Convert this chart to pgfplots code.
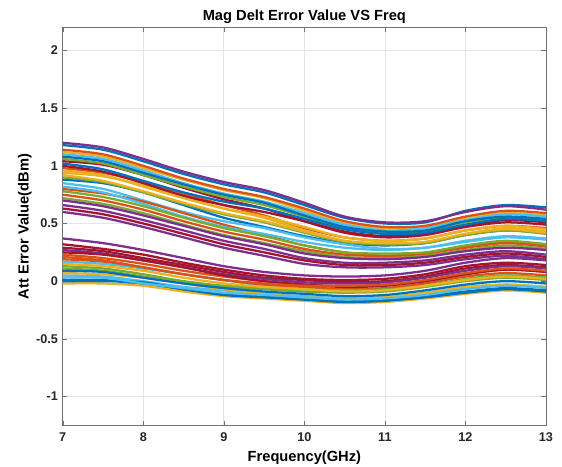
\documentclass[border=0pt]{standalone}
\usepackage{fontspec}
\setmainfont{Liberation Sans}
\usepackage{pgfplots}
\usepackage{pgfplotstable}
\pgfplotsset{compat=1.18}
\definecolor{m1}{HTML}{0072BD}
\definecolor{m2}{HTML}{D95319}
\definecolor{m3}{HTML}{EDB120}
\definecolor{m4}{HTML}{7E2F8E}
\definecolor{m5}{HTML}{77AC30}
\definecolor{m6}{HTML}{4DBEEE}
\definecolor{m7}{HTML}{A2142F}

\pgfplotstableread{
id 7 7.5 8 8.5 9 9.5 10 10.5 11 11.5 12 12.5 13
u1 1.18 1.14 1.04 0.93 0.84 0.77 0.66 0.55 0.50 0.51 0.61 0.66 0.64
u2 0.98 0.94 0.86 0.76 0.66 0.57 0.46 0.38 0.35 0.37 0.44 0.48 0.46
u3 1.12 1.08 0.98 0.88 0.79 0.72 0.61 0.50 0.46 0.47 0.55 0.59 0.57
u4 1.20 1.16 1.06 0.95 0.86 0.79 0.68 0.56 0.51 0.52 0.60 0.65 0.62
u5 0.72 0.67 0.59 0.49 0.40 0.33 0.26 0.21 0.20 0.22 0.27 0.31 0.28
u6 1.10 1.06 0.96 0.85 0.76 0.69 0.59 0.49 0.44 0.46 0.53 0.58 0.56
u7 1.04 1.01 0.92 0.81 0.71 0.63 0.52 0.42 0.38 0.40 0.47 0.51 0.49
u8 0.88 0.85 0.77 0.66 0.55 0.47 0.39 0.33 0.31 0.33 0.40 0.44 0.42
u9 1.14 1.10 1.00 0.89 0.80 0.73 0.63 0.52 0.47 0.48 0.56 0.61 0.59
u10 0.94 0.91 0.83 0.73 0.63 0.55 0.44 0.35 0.32 0.34 0.41 0.46 0.43
u11 0.60 0.55 0.47 0.38 0.29 0.22 0.15 0.12 0.12 0.14 0.19 0.22 0.19
u12 1.06 1.02 0.92 0.82 0.73 0.66 0.56 0.46 0.42 0.43 0.51 0.55 0.53
u13 0.85 0.80 0.70 0.60 0.52 0.46 0.38 0.32 0.28 0.29 0.34 0.38 0.36
u14 1.00 0.95 0.85 0.74 0.66 0.60 0.52 0.43 0.39 0.41 0.48 0.53 0.51
u15 1.08 1.04 0.94 0.84 0.75 0.68 0.57 0.47 0.43 0.44 0.52 0.56 0.54
u16 0.80 0.76 0.69 0.59 0.49 0.40 0.31 0.25 0.22 0.24 0.30 0.34 0.32
u17 0.96 0.92 0.82 0.72 0.63 0.56 0.47 0.38 0.35 0.37 0.44 0.48 0.45
u18 0.66 0.61 0.53 0.44 0.35 0.28 0.20 0.16 0.16 0.18 0.23 0.26 0.23
u19 0.90 0.86 0.77 0.67 0.58 0.51 0.42 0.34 0.32 0.33 0.40 0.44 0.41
u20 0.82 0.77 0.67 0.56 0.47 0.41 0.34 0.29 0.27 0.29 0.35 0.39 0.37
u21 0.63 0.58 0.50 0.41 0.32 0.25 0.18 0.14 0.14 0.16 0.21 0.24 0.21
u22 1.02 0.97 0.87 0.77 0.69 0.63 0.54 0.45 0.41 0.42 0.49 0.54 0.52
u23 0.75 0.70 0.62 0.52 0.43 0.36 0.28 0.23 0.22 0.24 0.29 0.33 0.30
u24 0.92 0.87 0.78 0.68 0.59 0.52 0.43 0.35 0.33 0.34 0.41 0.45 0.42
u25 0.70 0.65 0.57 0.48 0.39 0.32 0.24 0.20 0.19 0.21 0.26 0.29 0.27
u26 0.78 0.73 0.65 0.55 0.46 0.39 0.31 0.25 0.24 0.25 0.31 0.35 0.32
}\upraw
\pgfplotstabletranspose[colnames from=id,input colnames to=x]\upt\upraw

\pgfplotstableread{
id 7 7.5 8 8.5 9 9.5 10 10.5 11 11.5 12 12.5 13
l1 0.17 0.15 0.11 0.06 0.01 -0.04 -0.07 -0.09 -0.08 -0.04 0.01 0.05 0.03
l2 0.29 0.26 0.20 0.14 0.08 0.03 0.01 -0.01 0.00 0.04 0.11 0.14 0.12
l3 0.01 0.01 -0.03 -0.08 -0.11 -0.13 -0.15 -0.17 -0.16 -0.13 -0.09 -0.06 -0.08
l4 0.23 0.20 0.15 0.09 0.04 0.00 -0.03 -0.04 -0.03 0.00 0.06 0.10 0.08
l5 -0.02 -0.02 -0.04 -0.09 -0.13 -0.15 -0.17 -0.19 -0.18 -0.15 -0.11 -0.08 -0.10
l6 0.37 0.33 0.27 0.20 0.13 0.08 0.05 0.04 0.05 0.09 0.16 0.20 0.18
l7 0.11 0.09 0.04 -0.01 -0.05 -0.07 -0.09 -0.10 -0.09 -0.05 0.00 0.03 0.01
l8 0.05 0.04 0.00 -0.05 -0.08 -0.11 -0.13 -0.15 -0.14 -0.11 -0.06 -0.03 -0.05
l9 0.32 0.28 0.23 0.16 0.10 0.05 0.02 0.01 0.02 0.06 0.13 0.16 0.14
l10 0.00 0.00 -0.01 -0.07 -0.12 -0.14 -0.16 -0.18 -0.17 -0.14 -0.10 -0.07 -0.09
l11 0.19 0.17 0.12 0.06 0.01 -0.03 -0.05 -0.07 -0.06 -0.02 0.04 0.07 0.05
l12 0.07 0.06 0.03 -0.02 -0.07 -0.11 -0.14 -0.15 -0.14 -0.10 -0.05 -0.03 -0.05
l13 0.27 0.24 0.18 0.12 0.06 0.02 -0.01 -0.02 -0.01 0.03 0.09 0.13 0.11
l14 0.13 0.11 0.06 0.00 -0.04 -0.06 -0.07 -0.08 -0.07 -0.04 0.02 0.05 0.03
l15 0.03 0.03 -0.02 -0.06 -0.10 -0.12 -0.14 -0.16 -0.15 -0.12 -0.07 -0.04 -0.06
l16 0.25 0.23 0.18 0.12 0.05 0.00 -0.03 -0.05 -0.04 0.00 0.06 0.10 0.08
l17 0.09 0.08 0.03 -0.02 -0.06 -0.09 -0.11 -0.13 -0.12 -0.08 -0.03 0.00 -0.02
l18 0.21 0.18 0.12 0.06 0.01 -0.02 -0.04 -0.04 -0.03 0.01 0.07 0.11 0.09
l19 0.15 0.13 0.09 0.03 -0.02 -0.05 -0.07 -0.09 -0.08 -0.04 0.01 0.04 0.02
}\loraw
\pgfplotstabletranspose[colnames from=id,input colnames to=x]\lot\loraw

\begin{document}
\begin{tikzpicture}
\begin{axis}[
  name=ax,
  scale only axis,
  width=362pt, height=298pt,
  xmin=7, xmax=13, ymin=-1.25, ymax=2.2,
  xtick={7,8,9,10,11,12,13},
  ytick={-1,-0.5,0,0.5,1,1.5,2},
  /pgf/number format/assume math mode=true,
  tick label style={font=\bfseries\fontsize{9.5}{11}\selectfont, black!85},
  xticklabel style={yshift=-2pt},
  label style={font=\bfseries\fontsize{11}{13}\selectfont},
  title style={font=\bfseries\fontsize{11}{13}\selectfont, yshift=-6.5pt},
  title={Mag Delt Error Value VS Freq},
  xlabel={Frequency(GHz)},
  ylabel={Att Error Value(dBm)},
  xlabel style={yshift=0pt},
  ylabel style={yshift=-3.5pt},
  grid=major,
  major grid style={black!10, line width=0.5pt},
  axis line style={black!55, line width=0.6pt},
  tick style={black!55},
  tick align=inside,
  major tick length=3.5pt,
  cycle list={{m1},{m2},{m3},{m4},{m5},{m6},{m7}},
  every axis plot/.append style={line width=1.7pt, no marks, smooth},
]
\pgfplotsinvokeforeach{1,...,26}{\addplot+ table[x=x,y=u#1]{\upt};}
\pgfplotsinvokeforeach{1,...,19}{\addplot+ table[x=x,y=l#1]{\lot};}
\end{axis}
\pgfresetboundingbox
\path[use as bounding box] ([xshift=-47pt,yshift=-31pt]ax.south west) rectangle ([xshift=12pt,yshift=20.6pt]ax.north east);
\end{tikzpicture}
\end{document}
